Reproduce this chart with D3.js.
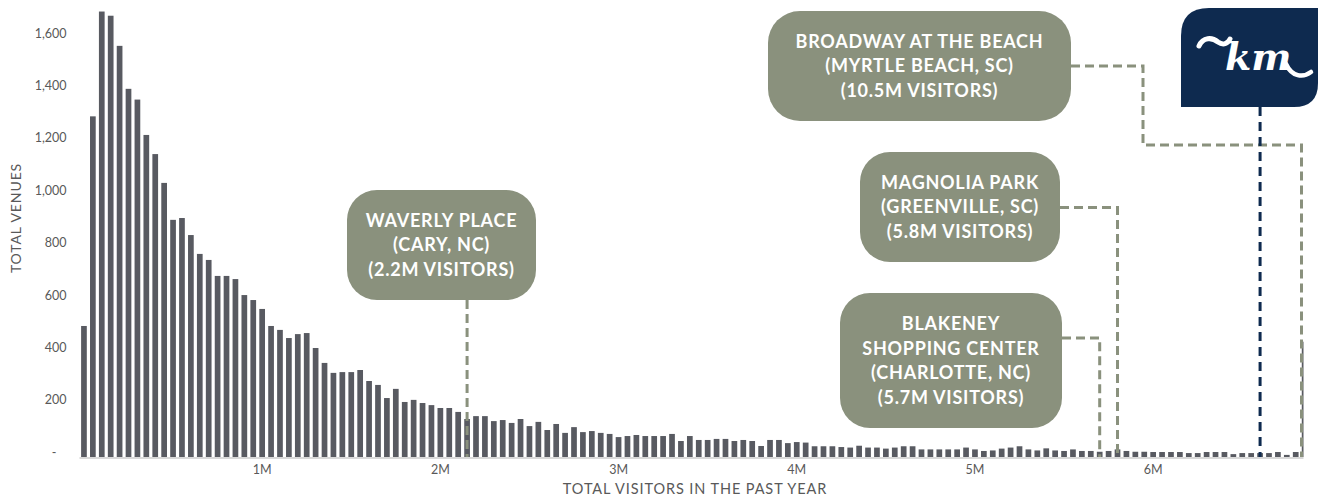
<!DOCTYPE html>
<html>
<head>
<meta charset="utf-8">
<script src="https://cdn.jsdelivr.net/npm/d3@7"></script>
<style>
  html, body { margin: 0; padding: 0; background: #fff; }
  svg { display: block; }
</style>
</head>
<body>
<svg id="chart" width="1318" height="498"></svg>
<script>
// ---- DATA ----
const binSize = 50000;
// venues per 50K-visitor bin, starting at 0 visitors (last bin = 6.85M+)
const venueCounts = [
  500, 1300, 1700, 1684, 1569, 1405, 1364, 1229, 1156, 1046,
  905, 912, 847, 775, 752, 691, 691, 679, 618, 599,
  565, 500, 485, 454, 469, 473, 416, 359, 321, 324,
  324, 332, 290, 275, 225, 260, 210, 218, 206, 198,
  187, 187, 172, 145, 156, 156, 137, 141, 130, 145,
  118, 134, 103, 126, 92, 114, 95, 99, 92, 88,
  76, 80, 84, 80, 80, 80, 88, 61, 80, 65,
  65, 69, 69, 61, 65, 61, 42, 65, 65, 53,
  57, 55, 41, 41, 41, 38, 36, 43, 36, 36,
  32, 36, 41, 41, 29, 29, 29, 29, 29, 36,
  29, 23, 25, 32, 36, 41, 29, 25, 33, 25,
  23, 29, 23, 23, 20, 23, 29, 23, 20, 20,
  19, 19, 19, 19, 15, 15, 19, 19, 19, 11,
  15, 15, 15, 15, 19, 8, 19, 440
];
const binStarts = venueCounts.map((_, i) => i * binSize);
const yTicks = [0, 200, 400, 600, 800, 1000, 1200, 1400, 1600];
const xTickValues = [1000000, 2000000, 3000000, 4000000, 5000000, 6000000];
const xTickLabels = ["1M", "2M", "3M", "4M", "5M", "6M"];
const yAxisTitle = "TOTAL VENUES";
const xAxisTitle = "TOTAL VISITORS IN THE PAST YEAR";

const calloutNames = [
  ["WAVERLY PLACE", "(CARY, NC)", "(2.2M VISITORS)"],
  ["BROADWAY AT THE BEACH", "(MYRTLE BEACH, SC)", "(10.5M VISITORS)"],
  ["MAGNOLIA PARK", "(GREENVILLE, SC)", "(5.8M VISITORS)"],
  ["BLAKENEY", "SHOPPING CENTER", "(CHARLOTTE, NC)", "(5.7M VISITORS)"]
];
const calloutVisitors = [2180000, 10500000, 5820000, 5720000];
const kmVisitors = 6620000;

// ---- LAYOUT (positions / styles) ----
const W = 1318, H = 498;
const plot = { left: 79.5, right: 1303.5, top: 0, bottom: 457 };
const boxLayout = [
  { x: 347, y: 190, w: 189, h: 110, r: 30, exit: "bottom" },
  { x: 768, y: 11, w: 303, h: 110, r: 32, exit: "right", ey: 66, elbowX: 1143, elbowY: 145 },
  { x: 860, y: 152, w: 200, h: 110, r: 30, exit: "right", ey: 207.5 },
  { x: 840, y: 293, w: 222, h: 135, r: 30, exit: "right", ey: 338 }
];
const barColor = "#585a61";
const boxColor = "#8a917d";
const navy = "#0e2a4f";
const textGrey = "#595959";
const boxFont = "Lato, 'Open Sans', sans-serif";
const axisFont = "Lato, 'Open Sans', sans-serif";

const svg = d3.select("#chart");

const step = 8.91;
const x = d3.scaleBand()
  .domain(d3.range(venueCounts.length))
  .range([plot.left, plot.left + venueCounts.length * step])
  .paddingInner(0.36)
  .paddingOuter(0.18);
const y = d3.scaleLinear().domain([0, 1744]).range([plot.bottom, plot.top]);

const binIndex = v => Math.min(venueCounts.length - 1, Math.floor(v / binSize));
const binCenter = v => Math.min(x(binIndex(v)) + x.bandwidth() / 2, plot.right - 2);

svg.append("defs").append("clipPath").attr("id", "plotClip")
  .append("rect").attr("x", plot.left).attr("y", 0)
  .attr("width", plot.right - plot.left).attr("height", plot.bottom + 2);

// bars
svg.append("g").attr("clip-path", "url(#plotClip)")
  .selectAll("rect").data(venueCounts).join("rect")
  .attr("x", (d, i) => x(i))
  .attr("y", d => y(d))
  .attr("width", x.bandwidth())
  .attr("height", d => y(0) - y(d))
  .attr("fill", barColor);

// x axis
const xAxisG = svg.append("g").attr("transform", `translate(0,${plot.bottom})`)
  .call(d3.axisBottom(x)
    .tickValues(xTickValues.map(binIndex))
    .tickFormat((d, i) => xTickLabels[i])
    .tickSize(0).tickPadding(8));
xAxisG.select(".domain").remove();
xAxisG.selectAll("text")
  .attr("fill", textGrey).attr("font-family", axisFont)
  .attr("font-size", 12.5);
svg.append("line")
  .attr("x1", plot.left).attr("x2", plot.right)
  .attr("y1", plot.bottom + 1).attr("y2", plot.bottom + 1)
  .attr("stroke", "#d9d9d9").attr("stroke-width", 2);

// y axis
const yAxisG = svg.append("g").attr("transform", `translate(${plot.left - 13},0)`)
  .call(d3.axisLeft(y)
    .tickValues(yTicks)
    .tickFormat(d => d === 0 ? "-" : d3.format(",")(d))
    .tickSize(0).tickPadding(0));
yAxisG.select(".domain").remove();
yAxisG.selectAll("text")
  .attr("fill", textGrey).attr("font-family", axisFont)
  .attr("font-size", 12.5)
  .attr("dy", "-0.05em")
  .attr("dx", d => d === 0 ? -10 : 0);

// axis titles
svg.append("text")
  .attr("transform", `translate(21,218) rotate(-90)`)
  .attr("text-anchor", "middle")
  .attr("fill", textGrey).attr("font-family", axisFont)
  .attr("font-size", 14)
  .attr("letter-spacing", 0.9)
  .text(yAxisTitle);
svg.append("text")
  .attr("x", 695).attr("y", 494)
  .attr("text-anchor", "middle")
  .attr("fill", textGrey).attr("font-family", axisFont)
  .attr("font-size", 14.5)
  .attr("letter-spacing", 0.9)
  .text(xAxisTitle);

// connectors
const lineGen = d3.line();
calloutNames.forEach((lines, i) => {
  const b = boxLayout[i];
  const cx = binCenter(calloutVisitors[i]);
  let pts;
  if (b.exit === "bottom") {
    pts = [[cx, b.y + b.h], [cx, plot.bottom]];
  } else if (b.elbowX) {
    pts = [[b.x + b.w, b.ey], [b.elbowX, b.ey], [b.elbowX, b.elbowY], [cx, b.elbowY], [cx, plot.bottom]];
  } else {
    pts = [[b.x + b.w, b.ey], [cx, b.ey], [cx, plot.bottom]];
  }
  svg.append("path")
    .attr("d", lineGen(pts))
    .attr("fill", "none")
    .attr("stroke", boxColor)
    .attr("stroke-width", 3)
    .attr("stroke-dasharray", "9,5");
});

// km connector
const kmX = binCenter(kmVisitors);
svg.append("path")
  .attr("d", lineGen([[kmX, 107], [kmX, plot.bottom]]))
  .attr("fill", "none").attr("stroke", navy)
  .attr("stroke-width", 3).attr("stroke-dasharray", "9,6");

// boxes
calloutNames.forEach((lines, i) => {
  const b = boxLayout[i];
  const g = svg.append("g");
  g.append("rect")
    .attr("x", b.x).attr("y", b.y).attr("width", b.w).attr("height", b.h)
    .attr("rx", b.r).attr("ry", b.r).attr("fill", boxColor);
  const lh = 24.6;
  const cy = b.y + b.h / 2;
  const start = cy - (lines.length - 1) * lh / 2;
  lines.forEach((t, j) => {
    g.append("text")
      .attr("x", b.x + b.w / 2)
      .attr("y", start + j * lh)
      .attr("dy", "0.36em")
      .attr("text-anchor", "middle")
      .attr("fill", "#ffffff")
      .attr("font-family", boxFont)
      .attr("font-weight", 700)
      .attr("font-size", 18)
      .attr("letter-spacing", 0.75)
      .text(t);
  });
});

// logo
const lg = { x: 1181, y: 8, w: W - 1181, h: 99, r1: 28, r2: 24 };
svg.append("path")
  .attr("d", `M${lg.x},${lg.y + lg.h} L${lg.x},${lg.y + lg.r1} Q${lg.x},${lg.y} ${lg.x + lg.r1},${lg.y}
     L${lg.x + lg.w},${lg.y} L${lg.x + lg.w},${lg.y + lg.h - lg.r2} Q${lg.x + lg.w},${lg.y + lg.h} ${lg.x + lg.w - lg.r2},${lg.y + lg.h} Z`)
  .attr("fill", navy);
svg.append("path")
  .attr("d", "M1199,46 C1203,37 1212,37 1218,42 C1222,45 1227,45 1230,39")
  .attr("fill", "none").attr("stroke", "#fff").attr("stroke-width", 5).attr("stroke-linecap", "round");
svg.append("text")
  .attr("x", 1225).attr("y", 70)
  .attr("fill", "#fff")
  .attr("font-family", "'DejaVu Serif', serif")
  .attr("font-style", "italic")
  .attr("font-weight", 700)
  .attr("font-size", 38)
  .text("km");
svg.append("path")
  .attr("d", "M1286,64 C1292,77 1303,78 1311,72")
  .attr("fill", "none").attr("stroke", "#fff").attr("stroke-width", 4.5).attr("stroke-linecap", "round");
</script>
</body>
</html>
